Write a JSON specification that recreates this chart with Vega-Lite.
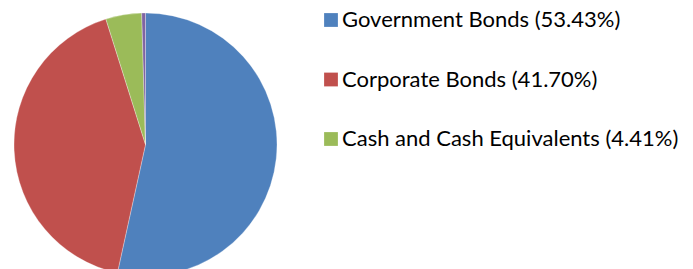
{
  "$schema": "https://vega.github.io/schema/vega-lite/v6.json",
  "width": 291,
  "height": 289,
  "autosize": "none",
  "padding": {"left": 0, "top": 0, "right": 402, "bottom": 0},
  "background": "white",
  "view": {"stroke": null},
  "data": {
    "values": [
      {"category": "Government Bonds (53.43%)", "share": 53.43, "order": 1},
      {"category": "Corporate Bonds (41.70%)", "share": 41.70, "order": 2},
      {"category": "Cash and Cash Equivalents (4.41%)", "share": 4.41, "order": 3},
      {"category": "Other (0.46%)", "share": 0.46, "order": 4}
    ]
  },
  "mark": {"type": "arc", "outerRadius": 131.5, "stroke": "white", "strokeWidth": 0.3},
  "encoding": {
    "theta": {"field": "share", "type": "quantitative", "stack": true},
    "order": {"field": "order", "type": "quantitative"},
    "color": {
      "field": "category",
      "type": "nominal",
      "scale": {
        "domain": ["Government Bonds (53.43%)", "Corporate Bonds (41.70%)", "Cash and Cash Equivalents (4.41%)", "Other (0.46%)"],
        "range": ["#4F81BD", "#C0504D", "#9BBB59", "#8064A2"]
      },
      "legend": {
        "title": null,
        "values": ["Government Bonds (53.43%)", "Corporate Bonds (41.70%)", "Cash and Cash Equivalents (4.41%)"],
        "orient": "none",
        "legendX": 320,
        "legendY": 9,
        "symbolType": "square",
        "symbolSize": 190,
        "symbolStrokeWidth": 0,
        "labelFont": "Lato",
        "labelFontSize": 22,
        "labelColor": "#000000",
        "labelOffset": 0,
        "labelLimit": 400,
        "rowPadding": 37.5
      }
    }
  }
}
